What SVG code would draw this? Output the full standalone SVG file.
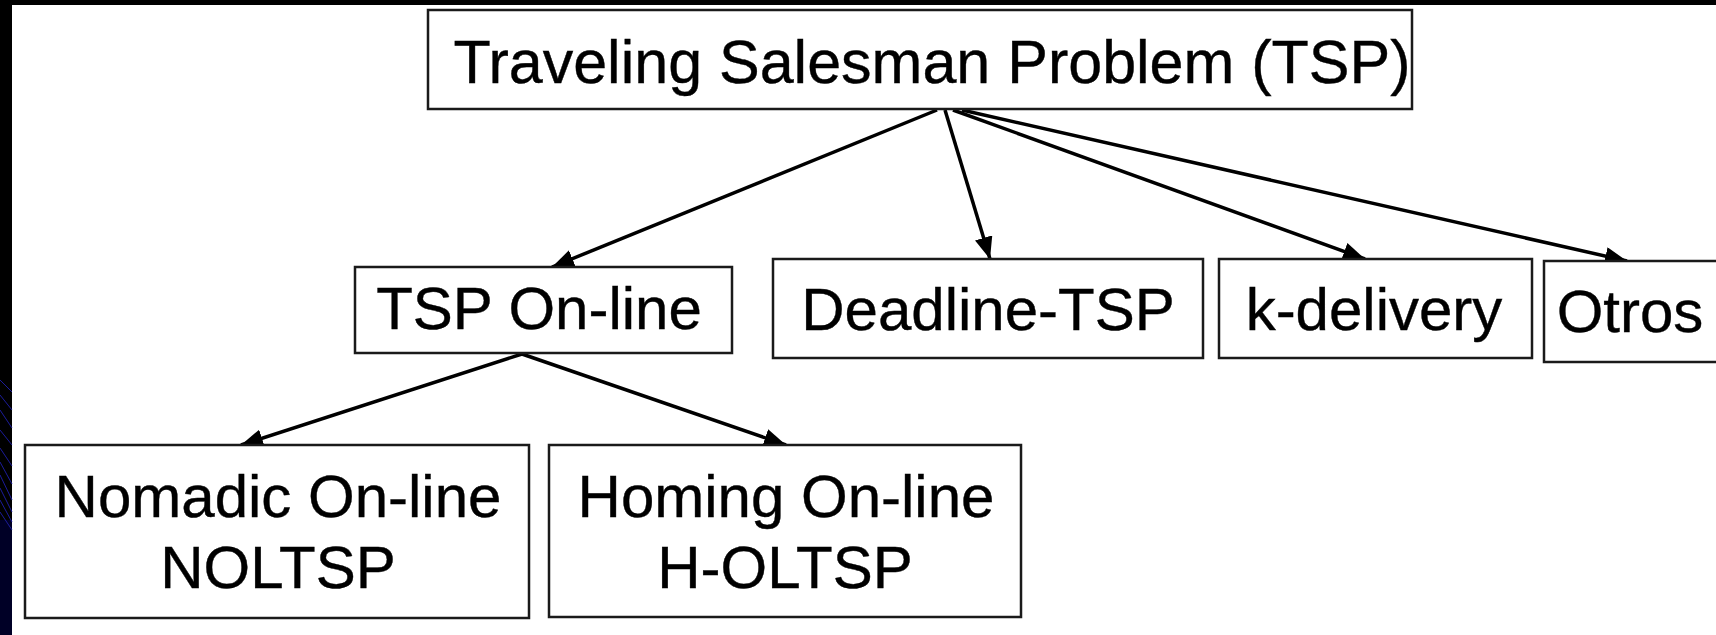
<svg xmlns="http://www.w3.org/2000/svg" width="1716" height="635" viewBox="0 0 1716 635">
  <style>
    .box { fill: #ffffff; stroke: #1a1a1a; stroke-width: 2.5; }
    .lbl { font-family: "Liberation Sans", Arial, sans-serif; font-size: 60px; fill: #000000; text-anchor: middle; stroke: #000000; stroke-width: 0.4; }
    .edge { stroke: #000000; stroke-width: 3.5; fill: none; marker-end: url(#arrow); }
    .swirl { stroke: #1c1c9a; stroke-width: 1; fill: none; }
  </style>
  <defs>
    <marker id="arrow" markerUnits="userSpaceOnUse" markerWidth="24" markerHeight="20" refX="22" refY="9" orient="auto">
      <path d="M0,0 L22,9 L0,18 z" fill="#000000"/>
    </marker>
  </defs>

  <!-- background frame -->
  <rect x="0" y="0" width="1716" height="635" fill="#000000"/>
  <rect x="12" y="5" width="1704" height="630" fill="#ffffff"/>
  <g id="left-strip-decoration">
    <rect x="0" y="520" width="12" height="115" fill="#000026"/>
    <path class="swirl" d="M0,380 L12,392 M0,395 L12,410 M0,410 L12,428 M0,430 L12,445 M0,448 L12,466 M0,462 L12,484 M0,475 L12,500 M0,488 L12,512 M0,500 L12,522 M0,512 L12,530"/>
  </g>

  <g id="connectors">
    <line class="edge" x1="937" y1="110" x2="552" y2="267"/>
    <line class="edge" x1="945" y1="110" x2="990" y2="259"/>
    <line class="edge" x1="953" y1="110" x2="1365" y2="259"/>
    <line class="edge" x1="962" y1="110" x2="1627" y2="261"/>
    <line class="edge" x1="522" y1="354" x2="241" y2="445"/>
    <line class="edge" x1="522" y1="354" x2="786" y2="445"/>
  </g>

  <g id="node-tsp">
    <rect class="box" x="428" y="10" width="984" height="99"/>
    <text class="lbl" x="932" y="83" style="font-size:61px">Traveling Salesman Problem (TSP)</text>
  </g>
  <g id="node-online">
    <rect class="box" x="355" y="267" width="377" height="86"/>
    <text class="lbl" x="539" y="329">TSP On-line</text>
  </g>
  <g id="node-deadline">
    <rect class="box" x="773" y="259" width="430" height="99"/>
    <text class="lbl" x="988" y="330">Deadline-TSP</text>
  </g>
  <g id="node-kdelivery">
    <rect class="box" x="1219" y="259" width="313" height="99"/>
    <text class="lbl" x="1374" y="330">k-delivery</text>
  </g>
  <g id="node-otros">
    <rect class="box" x="1544" y="261" width="200" height="101"/>
    <text class="lbl" x="1630" y="332">Otros</text>
  </g>
  <g id="node-nomadic">
    <rect class="box" x="25" y="445" width="504" height="173"/>
    <text class="lbl" x="278" y="517">Nomadic On-line</text>
    <text class="lbl" x="278" y="588">NOLTSP</text>
  </g>
  <g id="node-homing">
    <rect class="box" x="549" y="445" width="472" height="172"/>
    <text class="lbl" x="786" y="517">Homing On-line</text>
    <text class="lbl" x="785" y="588">H-OLTSP</text>
  </g>
</svg>
